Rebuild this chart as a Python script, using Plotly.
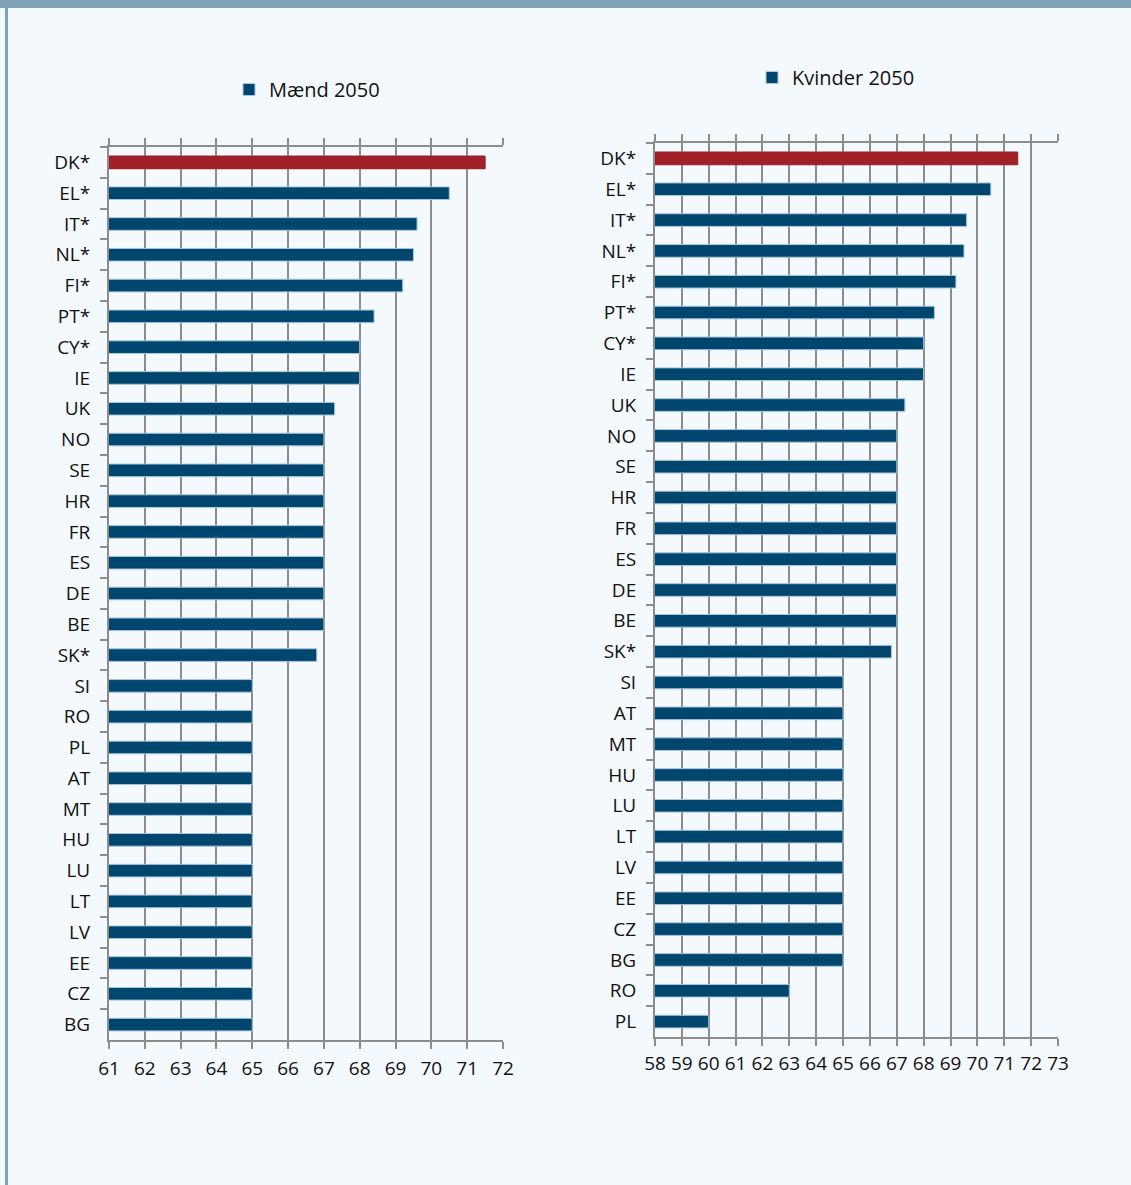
import plotly.graph_objects as go

# ---------------- data ----------------
countries_m = ["DK*", "EL*", "IT*", "NL*", "FI*", "PT*", "CY*", "IE", "UK", "NO",
               "SE", "HR", "FR", "ES", "DE", "BE", "SK*", "SI", "RO", "PL",
               "AT", "MT", "HU", "LU", "LT", "LV", "EE", "CZ", "BG"]
values_m = [71.5, 70.5, 69.6, 69.5, 69.2, 68.4, 68.0, 68.0, 67.3, 67.0,
            67.0, 67.0, 67.0, 67.0, 67.0, 67.0, 66.8, 65.0, 65.0, 65.0,
            65.0, 65.0, 65.0, 65.0, 65.0, 65.0, 65.0, 65.0, 65.0]

countries_k = ["DK*", "EL*", "IT*", "NL*", "FI*", "PT*", "CY*", "IE", "UK", "NO",
               "SE", "HR", "FR", "ES", "DE", "BE", "SK*", "SI", "AT", "MT",
               "HU", "LU", "LT", "LV", "EE", "CZ", "BG", "RO", "PL"]
values_k = [71.5, 70.5, 69.6, 69.5, 69.2, 68.4, 68.0, 68.0, 67.3, 67.0,
            67.0, 67.0, 67.0, 67.0, 67.0, 67.0, 66.8, 65.0, 65.0, 65.0,
            65.0, 65.0, 65.0, 65.0, 65.0, 65.0, 65.0, 63.0, 60.0]

highlight = "DK*"
name_m = "Mænd 2050"
name_k = "Kvinder 2050"
ticks_m = list(range(61, 73))
ticks_k = list(range(58, 74))

# ---------------- style ----------------
W, H = 1131, 1185
BLUE = "#00466e"
RED = "#a11f26"
OUTLINE = "#a9c6da"
GRID = "#8c8c8c"
BG = "#f4f9fd"
FONT = "Open Sans"


def px_x(p):
    return p / W


def px_y(p):
    return 1 - p / H


fig = go.Figure()

# Left panel: men
fig.add_trace(go.Bar(
    y=countries_m, x=values_m, orientation="h", name=name_m,
    marker=dict(color=BLUE, line=dict(color=OUTLINE, width=1)),
    xaxis="x", yaxis="y", legend="legend", showlegend=True,
))
hm = [i for i, c in enumerate(countries_m) if c == highlight]
fig.add_trace(go.Bar(
    y=[countries_m[i] for i in hm], x=[values_m[i] for i in hm], orientation="h",
    marker=dict(color=RED, line=dict(color=RED, width=1)),
    xaxis="x", yaxis="y", showlegend=False,
))

# Right panel: women
fig.add_trace(go.Bar(
    y=countries_k, x=values_k, orientation="h", name=name_k,
    marker=dict(color=BLUE, line=dict(color=OUTLINE, width=1)),
    xaxis="x2", yaxis="y2", legend="legend2", showlegend=True,
))
hk = [i for i, c in enumerate(countries_k) if c == highlight]
fig.add_trace(go.Bar(
    y=[countries_k[i] for i in hk], x=[values_k[i] for i in hk], orientation="h",
    marker=dict(color=RED, line=dict(color=RED, width=1)),
    xaxis="x2", yaxis="y2", showlegend=False,
))

tickfont = dict(family=FONT, size=19, color="#111111")

xcommon = dict(
    showgrid=True, gridcolor=GRID, gridwidth=2,
    showline=True, linecolor=GRID, linewidth=2, mirror="ticks",
    ticks="outside", ticklen=7, tickwidth=2, tickcolor=GRID,
    tickfont=tickfont, tickangle=0, zeroline=False,
    ticklabelstandoff=3, automargin=False, fixedrange=True,
)
ycommon = dict(
    type="category", autorange=False, showgrid=False,
    showline=True, linecolor=GRID, linewidth=2,
    ticks="outside", ticklen=7, tickwidth=2, tickcolor=GRID,
    tickson="boundaries", tickfont=tickfont, ticklabelstandoff=13,
    automargin=False, fixedrange=True,
)

fig.update_layout(
    template="none",
    width=W, height=H, autosize=False,
    margin=dict(l=0, r=0, t=0, b=0, pad=0),
    paper_bgcolor=BG, plot_bgcolor=BG,
    font=dict(family=FONT, size=19, color="#111111"),
    barmode="overlay", bargap=0.59,
    xaxis=dict(xcommon, domain=[px_x(109), px_x(503)], range=[ticks_m[0], ticks_m[-1]],
               tickvals=ticks_m, anchor="y"),
    yaxis=dict(ycommon, domain=[px_y(1040), px_y(147)],
               range=[len(countries_m) - 0.5, -0.5], anchor="x"),
    xaxis2=dict(xcommon, domain=[px_x(655), px_x(1058)], range=[ticks_k[0], ticks_k[-1]],
                tickvals=ticks_k, ticklabelstandoff=1, anchor="y2"),
    yaxis2=dict(ycommon, domain=[px_y(1037), px_y(143)],
                range=[len(countries_k) - 0.5, -0.5], anchor="x2"),
    legend=dict(x=px_x(229), y=px_y(70), xanchor="left", yanchor="top",
                bgcolor="rgba(0,0,0,0)", font=dict(family=FONT, size=20, color="#111111"),
                itemwidth=30),
    legend2=dict(x=px_x(752), y=px_y(58), xanchor="left", yanchor="top",
                 bgcolor="rgba(0,0,0,0)", font=dict(family=FONT, size=20, color="#111111"),
                 itemwidth=30),
    shapes=[
        dict(type="rect", xref="paper", yref="paper", x0=0, x1=1, y0=px_y(8), y1=1,
             fillcolor="#7fa2b8", line=dict(width=0), layer="above"),
        dict(type="rect", xref="paper", yref="paper", x0=px_x(5), x1=px_x(8), y0=0, y1=px_y(8),
             fillcolor="#7fa2b8", line=dict(width=0), layer="above"),
    ],
)

fig.write_html(
    "out.html",
    config={"displayModeBar": False},
    post_script="document.body.style.margin='0';document.body.style.overflow='hidden';",
)
